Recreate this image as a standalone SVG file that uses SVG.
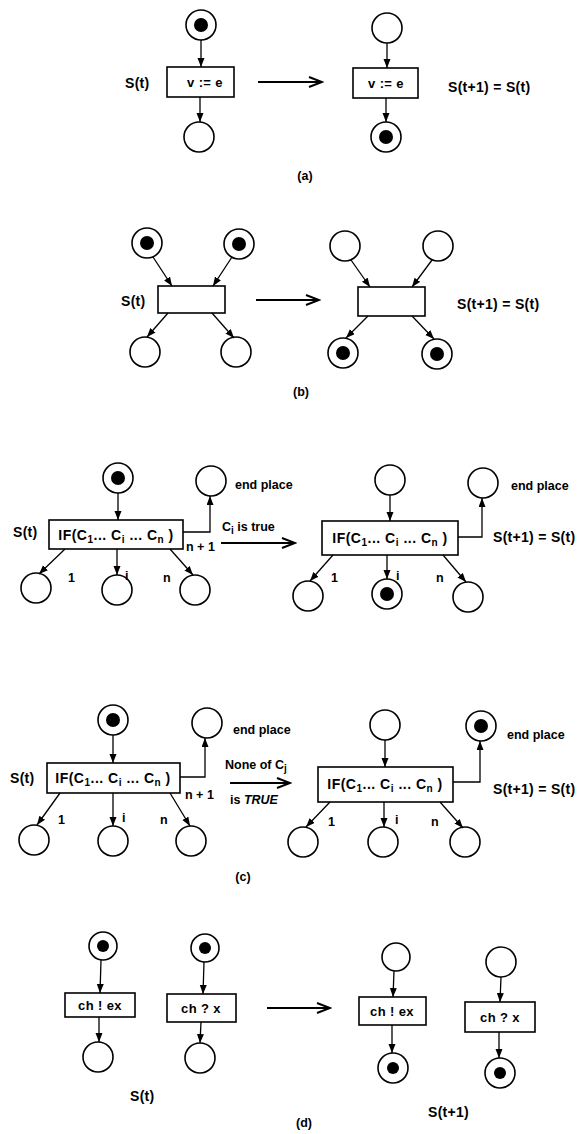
<svg xmlns="http://www.w3.org/2000/svg" width="583" height="1134" viewBox="0 0 583 1134">
  <style>
    .pl { fill: #fff; stroke: #000; stroke-width: 1.6; }
    .tk { fill: #000; }
    .tr { fill: #fff; stroke: #000; stroke-width: 1.6; }
    .ar { fill: none; stroke: #000; stroke-width: 1.3; marker-end: url(#ah); }
    .big { fill: none; stroke: #000; stroke-width: 2.2; marker-end: url(#bh); }
    text { font-family: "Liberation Sans", Arial, sans-serif; font-weight: bold; fill: #000; }
    .lb { font-size: 14px; letter-spacing: 0.3px; }
    .bx { font-size: 13px; letter-spacing: 0.4px; }
    .iff { font-size: 14px; letter-spacing: 0.5px; }
    .sm { font-size: 12.5px; }
    .cap { font-size: 12.5px; text-anchor: middle; }
    .mid { text-anchor: middle; }
    .sub { font-size: 10px; }
  </style>
  <defs>
    <marker id="ah" markerUnits="userSpaceOnUse" markerWidth="10" markerHeight="8" refX="9" refY="3.5" orient="auto">
      <path d="M0,0 L9,3.5 L0,7 z" fill="#000"/>
    </marker>
    <marker id="bh" markerUnits="userSpaceOnUse" markerWidth="16" markerHeight="14" refX="14" refY="6" orient="auto">
      <path d="M1,1 L14,6 L1,11" fill="none" stroke="#000" stroke-width="2"/>
    </marker>
  </defs>

  <!-- ===== (a) assignment ===== -->
  <g id="a-left">
    <g id="a-p1"><circle class="pl" cx="201" cy="25" r="15"/><circle class="tk" cx="201" cy="25" r="7"/></g>
    <g id="a-t1"><rect class="tr" x="167" y="67" width="67" height="30"/><text class="bx mid" x="205" y="87">v := e</text></g>
    <g id="a-p2"><circle class="pl" cx="199" cy="137" r="15"/></g>
    <text class="lb" x="125" y="88">S(t)</text>
  </g>
  <g id="a-right">
    <g id="a-p3"><circle class="pl" cx="387" cy="28" r="15"/></g>
    <g id="a-t2"><rect class="tr" x="353" y="68" width="65" height="30"/><text class="bx mid" x="386" y="88">v := e</text></g>
    <g id="a-p4"><circle class="pl" cx="386" cy="137" r="15"/><circle class="tk" cx="386" cy="137" r="7"/></g>
    <text class="lb" x="448" y="92">S(t+1) = S(t)</text>
  </g>
  <text class="cap" x="305" y="180">(a)</text>

  <!-- ===== (b) fork / join ===== -->
  <g id="b-left">
    <g id="b-p1"><circle class="pl" cx="147" cy="243" r="15"/><circle class="tk" cx="147" cy="243" r="7"/></g>
    <g id="b-p2"><circle class="pl" cx="239" cy="244" r="15"/><circle class="tk" cx="239" cy="244" r="7"/></g>
    <g id="b-t1"><rect class="tr" x="158" y="286" width="67" height="27"/></g>
    <g id="b-p3"><circle class="pl" cx="145" cy="352" r="15"/></g>
    <g id="b-p4"><circle class="pl" cx="236" cy="352" r="15"/></g>
    <text class="lb" x="121" y="306">S(t)</text>
  </g>
  <g id="b-right">
    <g id="b-p5"><circle class="pl" cx="345" cy="246" r="15"/></g>
    <g id="b-p6"><circle class="pl" cx="438" cy="246" r="15"/></g>
    <g id="b-t2"><rect class="tr" x="358" y="287" width="67" height="29"/></g>
    <g id="b-p7"><circle class="pl" cx="343" cy="353" r="15"/><circle class="tk" cx="343" cy="353" r="7"/></g>
    <g id="b-p8"><circle class="pl" cx="437" cy="354" r="15"/><circle class="tk" cx="437" cy="354" r="7"/></g>
    <text class="lb" x="457" y="309">S(t+1) = S(t)</text>
  </g>
  <text class="cap" x="301" y="396">(b)</text>

  <!-- ===== (c) IF, some condition true ===== -->
  <g id="c1-left">
    <g id="c1-p0"><circle class="pl" cx="118" cy="478" r="15"/><circle class="tk" cx="118" cy="478" r="7"/></g>
    <g id="c1-t"><rect class="tr" x="49" y="520" width="134" height="29"/>
      <text class="iff mid" x="116" y="540">IF(C<tspan class="sub" dy="3">1</tspan><tspan dy="-3">... C</tspan><tspan class="sub" dy="3">i</tspan><tspan dy="-3"> ... C</tspan><tspan class="sub" dy="3">n</tspan><tspan dy="-3"> )</tspan></text></g>
    <g id="c1-end"><circle class="pl" cx="211" cy="481" r="15"/></g>
    <g id="c1-p1"><circle class="pl" cx="36" cy="588" r="15"/></g>
    <g id="c1-pi"><circle class="pl" cx="117" cy="590" r="15"/></g>
    <g id="c1-pn"><circle class="pl" cx="195" cy="590" r="15"/></g>
    <text class="sm" x="235" y="489">end place</text>
    <text class="lb" x="13" y="537">S(t)</text>
    <text class="sm" x="186" y="551">n + 1</text>
    <text class="sm" x="68" y="582">1</text>
    <text class="sm" x="125" y="580">i</text>
    <text class="sm" x="163" y="582">n</text>
  </g>
  <text class="sm" x="222" y="531">C<tspan class="sub" dy="3">i</tspan><tspan dy="-3"> is true</tspan></text>
  <g id="c1-right">
    <g id="c1-q0"><circle class="pl" cx="390" cy="480" r="15"/></g>
    <g id="c1-u"><rect class="tr" x="322" y="521" width="136" height="34"/>
      <text class="iff mid" x="390" y="543">IF(C<tspan class="sub" dy="3">1</tspan><tspan dy="-3">... C</tspan><tspan class="sub" dy="3">i</tspan><tspan dy="-3"> ... C</tspan><tspan class="sub" dy="3">n</tspan><tspan dy="-3"> )</tspan></text></g>
    <g id="c1-qend"><circle class="pl" cx="483" cy="483" r="15"/></g>
    <g id="c1-q1"><circle class="pl" cx="308" cy="596" r="15"/></g>
    <g id="c1-qi"><circle class="pl" cx="387" cy="594" r="15"/><circle class="tk" cx="387" cy="594" r="7"/></g>
    <g id="c1-qn"><circle class="pl" cx="468" cy="597" r="15"/></g>
    <text class="sm" x="511" y="490">end place</text>
    <text class="lb" x="493" y="542">S(t+1) = S(t)</text>
    <text class="sm" x="331" y="582">1</text>
    <text class="sm" x="396" y="580">i</text>
    <text class="sm" x="436" y="582">n</text>
  </g>

  <!-- ===== (c) IF, no condition true ===== -->
  <g id="c2-left">
    <g id="c2-p0"><circle class="pl" cx="113" cy="720" r="15"/><circle class="tk" cx="113" cy="720" r="7"/></g>
    <g id="c2-t"><rect class="tr" x="47" y="763" width="133" height="30"/>
      <text class="iff mid" x="113" y="783">IF(C<tspan class="sub" dy="3">1</tspan><tspan dy="-3">... C</tspan><tspan class="sub" dy="3">i</tspan><tspan dy="-3"> ... C</tspan><tspan class="sub" dy="3">n</tspan><tspan dy="-3"> )</tspan></text></g>
    <g id="c2-end"><circle class="pl" cx="207" cy="723" r="15"/></g>
    <g id="c2-p1"><circle class="pl" cx="34" cy="840" r="15"/></g>
    <g id="c2-pi"><circle class="pl" cx="113" cy="841" r="15"/></g>
    <g id="c2-pn"><circle class="pl" cx="191" cy="841" r="15"/></g>
    <text class="sm" x="233" y="734">end place</text>
    <text class="lb" x="10" y="783">S(t)</text>
    <text class="sm" x="185" y="799">n + 1</text>
    <text class="sm" x="58" y="824">1</text>
    <text class="sm" x="122" y="822">i</text>
    <text class="sm" x="160" y="824">n</text>
  </g>
  <text class="sm" x="225" y="769">None of C<tspan class="sub" dy="3">j</tspan></text>
  <text class="sm" x="230" y="804">is <tspan font-style="italic">TRUE</tspan></text>
  <g id="c2-right">
    <g id="c2-q0"><circle class="pl" cx="385" cy="725" r="15"/></g>
    <g id="c2-u"><rect class="tr" x="318" y="767" width="135" height="35"/>
      <text class="iff mid" x="385" y="789">IF(C<tspan class="sub" dy="3">1</tspan><tspan dy="-3">... C</tspan><tspan class="sub" dy="3">i</tspan><tspan dy="-3"> ... C</tspan><tspan class="sub" dy="3">n</tspan><tspan dy="-3"> )</tspan></text></g>
    <g id="c2-qend"><circle class="pl" cx="481" cy="726" r="15"/><circle class="tk" cx="481" cy="726" r="7"/></g>
    <g id="c2-q1"><circle class="pl" cx="303" cy="842" r="15"/></g>
    <g id="c2-qi"><circle class="pl" cx="383" cy="842" r="15"/></g>
    <g id="c2-qn"><circle class="pl" cx="465" cy="842" r="15"/></g>
    <text class="sm" x="507" y="739">end place</text>
    <text class="lb" x="493" y="794">S(t+1) = S(t)</text>
    <text class="sm" x="328" y="826">1</text>
    <text class="sm" x="395" y="824">i</text>
    <text class="sm" x="431" y="826">n</text>
  </g>
  <text class="cap" x="243" y="881">(c)</text>

  <!-- ===== (d) channel communication ===== -->
  <g id="d-left">
    <g id="d-p1"><circle class="pl" cx="103" cy="946" r="14"/><circle class="tk" cx="103" cy="946" r="6"/></g>
    <g id="d-t1"><rect class="tr" x="65" y="993" width="70" height="24"/><text class="bx mid" x="100" y="1010">ch ! ex</text></g>
    <g id="d-p2"><circle class="pl" cx="98" cy="1057" r="15"/></g>
    <g id="d-p3"><circle class="pl" cx="205" cy="948" r="14"/><circle class="tk" cx="205" cy="948" r="6"/></g>
    <g id="d-t2"><rect class="tr" x="167" y="994" width="69" height="28"/><text class="bx mid" x="201" y="1013">ch ? x</text></g>
    <g id="d-p4"><circle class="pl" cx="200" cy="1058" r="15"/></g>
    <text class="lb" x="130" y="1101">S(t)</text>
  </g>
  <g id="d-right">
    <g id="d-q1"><circle class="pl" cx="396" cy="957" r="14"/></g>
    <g id="d-u1"><rect class="tr" x="359" y="997" width="67" height="28"/><text class="bx mid" x="392" y="1016">ch ! ex</text></g>
    <g id="d-q2"><circle class="pl" cx="393" cy="1068" r="15"/><circle class="tk" cx="393" cy="1068" r="6"/></g>
    <g id="d-q3"><circle class="pl" cx="501" cy="962" r="15"/></g>
    <g id="d-u2"><rect class="tr" x="465" y="1002" width="70" height="30"/><text class="bx mid" x="500" y="1022">ch ? x</text></g>
    <g id="d-q4"><circle class="pl" cx="500" cy="1073" r="15"/><circle class="tk" cx="500" cy="1073" r="6"/></g>
    <text class="lb" x="428" y="1117">S(t+1)</text>
  </g>
  <text class="cap" x="304" y="1127">(d)</text>

  <!-- ===== connectors ===== -->
  <g id="connectors">
    <!-- (a) -->
    <line class="ar" x1="201" y1="40" x2="201" y2="67"/>
    <line class="ar" x1="200" y1="97" x2="200" y2="122"/>
    <line class="big" x1="258" y1="82" x2="322" y2="82"/>
    <line class="ar" x1="387" y1="43" x2="387" y2="68"/>
    <line class="ar" x1="386" y1="98" x2="386" y2="122"/>
    <!-- (b) -->
    <line class="ar" x1="153" y1="257" x2="172" y2="286"/>
    <line class="ar" x1="232" y1="257" x2="213" y2="286"/>
    <line class="ar" x1="168" y1="313" x2="147" y2="337"/>
    <line class="ar" x1="212" y1="313" x2="234" y2="338"/>
    <line class="big" x1="256" y1="300" x2="319" y2="300"/>
    <line class="ar" x1="351" y1="260" x2="370" y2="287"/>
    <line class="ar" x1="432" y1="260" x2="412" y2="287"/>
    <line class="ar" x1="368" y1="316" x2="346" y2="338"/>
    <line class="ar" x1="412" y1="316" x2="434" y2="339"/>
    <!-- (c) first -->
    <line class="ar" x1="118" y1="493" x2="118" y2="520"/>
    <polyline class="ar" points="183,532 210,532 210,496"/>
    <line class="ar" x1="65" y1="549" x2="39" y2="574"/>
    <line class="ar" x1="117" y1="549" x2="117" y2="575"/>
    <line class="ar" x1="170" y1="549" x2="193" y2="575"/>
    <line class="big" x1="221" y1="543" x2="295" y2="543"/>
    <line class="ar" x1="390" y1="495" x2="390" y2="521"/>
    <polyline class="ar" points="458,537 482,537 482,498"/>
    <line class="ar" x1="333" y1="555" x2="310" y2="581"/>
    <line class="ar" x1="387" y1="555" x2="387" y2="579"/>
    <line class="ar" x1="443" y1="555" x2="466" y2="582"/>
    <!-- (c) second -->
    <line class="ar" x1="113" y1="735" x2="113" y2="763"/>
    <polyline class="ar" points="180,777 205,777 205,738"/>
    <line class="ar" x1="60" y1="793" x2="37" y2="825"/>
    <line class="ar" x1="113" y1="793" x2="113" y2="826"/>
    <line class="ar" x1="170" y1="793" x2="190" y2="826"/>
    <line class="big" x1="230" y1="783" x2="290" y2="783"/>
    <line class="ar" x1="385" y1="740" x2="385" y2="767"/>
    <polyline class="ar" points="453,782 480,782 480,741"/>
    <line class="ar" x1="330" y1="802" x2="306" y2="827"/>
    <line class="ar" x1="384" y1="802" x2="384" y2="827"/>
    <line class="ar" x1="440" y1="802" x2="463" y2="828"/>
    <!-- (d) -->
    <line class="ar" x1="101" y1="960" x2="100" y2="993"/>
    <line class="ar" x1="99" y1="1017" x2="99" y2="1042"/>
    <line class="ar" x1="204" y1="962" x2="203" y2="994"/>
    <line class="ar" x1="201" y1="1022" x2="200" y2="1043"/>
    <line class="big" x1="267" y1="1008" x2="330" y2="1008"/>
    <line class="ar" x1="394" y1="971" x2="393" y2="997"/>
    <line class="ar" x1="392" y1="1025" x2="392" y2="1053"/>
    <line class="ar" x1="501" y1="977" x2="500" y2="1002"/>
    <line class="ar" x1="499" y1="1032" x2="499" y2="1058"/>
  </g>
</svg>
